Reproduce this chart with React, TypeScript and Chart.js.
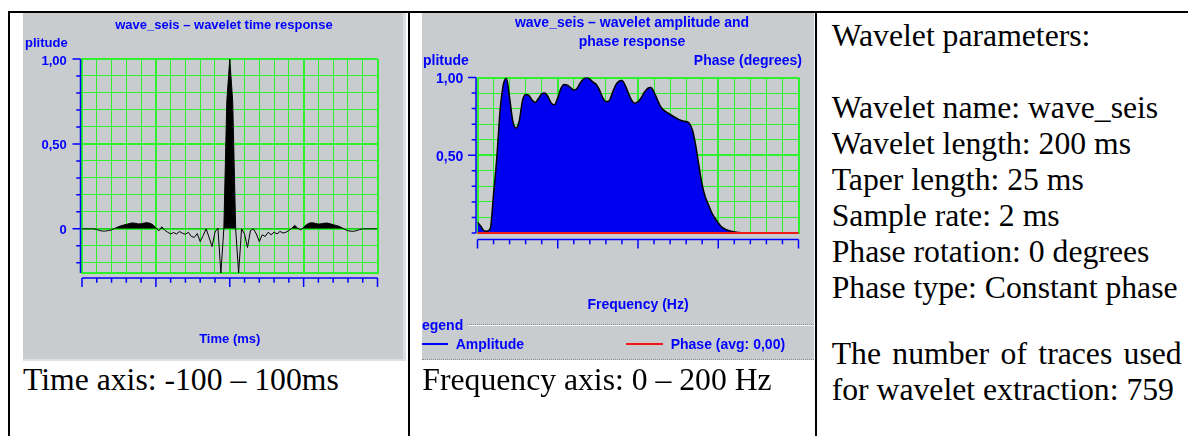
import React, { useEffect, useRef } from 'react';
import { Chart, registerables } from 'chart.js';

Chart.register(...registerables);

// ---- wavelet time response (2 ms samples) ----
const timeMs = [
  -100, -98, -96, -94, -92, -90, -88, -86, -84, -82, -80, -78, -76, -74, -72, -70, -68,
  -66, -64, -62, -60, -58, -56, -54, -52, -50, -48, -46, -44, -42, -40, -38, -36, -34,
  -32, -30, -28, -26, -24, -22, -20, -18, -16, -14, -12, -10, -8, -6, -4, -2, 0, 2, 4,
  6, 8, 10, 12, 14, 16, 18, 20, 22, 24, 26, 28, 30, 32, 34, 36, 38, 40, 42, 44, 46, 48,
  50, 52, 54, 56, 58, 60, 62, 64, 66, 68, 70, 72, 74, 76, 78, 80, 82, 84, 86, 88, 90,
  92, 94, 96, 98, 100,
];
const waveletAmp = [
  0, 0, 0, 0, 0,
  -0.004, -0.01, -0.013, -0.013, -0.01, -0.006,
  0.002, 0.01, 0.017, 0.022, 0.026, 0.031, 0.035, 0.033, 0.029, 0.03, 0.034, 0.036, 0.033, 0.024, 0.006,
  -0.012, 0.012, -0.008, -0.02, -0.03, -0.022, -0.03, -0.016, -0.026, -0.032, -0.02, -0.045, -0.05, -0.028, -0.075,
  -0.04, 0, -0.05, -0.105, -0.02, 0.005, -0.26, 0, 0.75,
  1,
  0.75, 0, -0.26, 0, -0.03, -0.11, -0.01, 0, -0.03,
  -0.075, -0.035, -0.045, -0.02, -0.035, -0.02, -0.03, -0.015, -0.025, -0.02, -0.01, 0.004, 0.02, 0.004, -0.006,
  0.008, 0.025, 0.034, 0.036, 0.032, 0.028, 0.03, 0.033, 0.034, 0.03, 0.024, 0.02, 0.015, 0.006, -0.004,
  -0.011, -0.014, -0.014, -0.01, -0.004, 0, 0, 0, 0, 0, 0,
];
const timeTicks = [-100, -90, -80, -70, -60, -50, -40, -30, -20, -10, 0, 10, 20, 30, 40, 50, 60, 70, 80, 90, 100];
const timeAmpTicks = [-0.2, -0.1, 0, 0.1, 0.2, 0.3, 0.4, 0.5, 0.6, 0.7, 0.8, 0.9, 1];
const timeAmpLabelValues = [1, 0.5, 0];
const timeAmpLabels = ['1,00', '0,50', '0'];

// ---- wavelet amplitude / phase spectrum (2 Hz samples) ----
const freqHz = [
  0, 2, 4, 6, 8, 10, 12, 14, 16, 18, 20, 22, 24, 26, 28, 30, 32, 34, 36, 38, 40, 42, 44,
  46, 48, 50, 52, 54, 56, 58, 60, 62, 64, 66, 68, 70, 72, 74, 76, 78, 80, 82, 84, 86, 88,
  90, 92, 94, 96, 98, 100, 102, 104, 106, 108, 110, 112, 114, 116, 118, 120, 122, 124,
  126, 128, 130, 132, 134, 136, 138, 140, 142, 144, 146, 148, 150, 152, 154, 156, 158,
  160, 162, 164, 166, 168, 170, 172, 174, 176, 178, 180, 182, 184, 186, 188, 190, 192,
  194, 196, 198, 200,
];
const spectrumAmp = [
  0.07, 0.045, 0.015, 0.012, 0.03,
  0.25, 0.48, 0.78, 0.95, 0.995, 0.87, 0.72, 0.675, 0.72, 0.85,
  0.89, 0.885, 0.855, 0.84, 0.865, 0.895, 0.9, 0.875, 0.835, 0.825,
  0.87, 0.93, 0.955, 0.95, 0.935, 0.92, 0.93, 0.965, 0.99, 1.0,
  0.99, 0.97, 0.955, 0.92, 0.87, 0.845, 0.85, 0.9, 0.95, 0.975,
  0.98, 0.95, 0.9, 0.855, 0.835, 0.845, 0.87, 0.905, 0.93, 0.935,
  0.905, 0.86, 0.815, 0.79, 0.775, 0.762, 0.75, 0.738, 0.727, 0.72,
  0.717, 0.705, 0.66, 0.56, 0.43, 0.31, 0.23, 0.18, 0.13, 0.095,
  0.065, 0.04, 0.027, 0.018, 0.012, 0.008, 0.004, 0.002, 0, 0,
  0, 0, 0, 0, 0, 0, 0, 0, 0, 0,
  0, 0, 0, 0, 0, 0,
];
const phaseFreqHz = [0, 50, 100, 150, 200];
const phaseDeg = [0, 0, 0, 0, 0];
const freqTicks = [0, 10, 20, 30, 40, 50, 60, 70, 80, 90, 100, 110, 120, 130, 140, 150, 160, 170, 180, 190, 200];
const freqAmpTicks = [0, 0.1, 0.2, 0.3, 0.4, 0.5, 0.6, 0.7, 0.8, 0.9, 1];
const freqAmpLabelValues = [1, 0.5];
const freqAmpLabels = ['1,00', '0,50'];

const SANS = '"Liberation Sans", Arial, sans-serif';
const SERIF = '"Liberation Serif", "Times New Roman", serif';
const BLUE = '#0000ff';
const GREEN = '#2ef02e';
const PANEL = '#c9ccce';
const FILL_BLUE = '#0000f0';
const RED = '#f01818';

const near = (a: number, b: number) => Math.abs(a - b) < 1e-6;
const isHalfStep = (v: number) => near(v * 2, Math.round(v * 2));

// Blue rulers drawn just outside the plot frame, the corner captions,
// and a horizontal span for the title block.
const axisRulers = {
  id: 'axisRulers',
  afterLayout(chart: any, _args: any, opts: any) {
    if (opts.titleSpan && chart.titleBlock) {
      chart.titleBlock.left = opts.titleSpan[0];
      chart.titleBlock.right = opts.titleSpan[1];
    }
  },
  afterDraw(chart: any, _args: any, opts: any) {
    const { ctx, chartArea: a, scales } = chart;
    const xs = scales.x;
    const ys = scales.y;
    ctx.save();
    ctx.strokeStyle = opts.color;
    ctx.lineWidth = 1.5;
    ctx.beginPath();
    const rx = a.left - opts.yGap;
    ctx.moveTo(rx, a.top);
    ctx.lineTo(rx, a.bottom);
    ys.ticks.forEach((t: any) => {
      const py = ys.getPixelForValue(t.value);
      const len = opts.yMajor.some((m: number) => near(m, t.value)) ? 8 : 4.3;
      ctx.moveTo(rx - len, py);
      ctx.lineTo(rx, py);
    });
    const ry = a.bottom + opts.xGap;
    ctx.moveTo(a.left, ry);
    ctx.lineTo(a.right, ry);
    xs.ticks.forEach((t: any) => {
      const px = xs.getPixelForValue(t.value);
      const len = t.value % 50 === 0 ? 9 : 4.7;
      ctx.moveTo(px, ry);
      ctx.lineTo(px, ry + len);
    });
    ctx.stroke();

    ctx.fillStyle = opts.color;
    ctx.font = opts.font;
    ctx.textBaseline = 'middle';
    const ly = a.top - opts.labelRise;
    ctx.textAlign = 'left';
    ctx.fillText(opts.leftLabel, opts.leftX, ly);
    if (opts.rightLabel) {
      ctx.textAlign = 'right';
      ctx.fillText(opts.rightLabel, opts.rightX, ly);
    }
    ctx.restore();
  },
};

function gridFor(major: (v: number) => boolean) {
  return {
    color: GREEN,
    lineWidth: (c: any) => (c.tick && major(c.tick.value) ? 2 : 1),
    drawTicks: false,
  };
}

function timeConfig(): any {
  const font = { family: SANS, size: 13, weight: 'bold' as const, lineHeight: 1.2 };
  return {
    type: 'line',
    data: {
      datasets: [
        {
          label: 'Amplitude',
          data: timeMs.map((t, i) => ({ x: t, y: waveletAmp[i] })),
          borderColor: '#000',
          borderWidth: 1,
          pointRadius: 0,
          tension: 0,
          fill: { target: 'origin', above: '#000', below: 'rgba(0,0,0,0)' },
        },
      ],
    },
    plugins: [axisRulers],
    options: {
      responsive: false,
      animation: false,
      devicePixelRatio: 1,
      events: [],
      layout: { padding: { left: 0, right: 25.5, top: 0, bottom: 0 } },
      plugins: {
        legend: { display: false },
        tooltip: { enabled: false },
        title: {
          display: true,
          text: 'wave_seis – wavelet time response',
          color: BLUE,
          font,
          padding: { top: 4.2, bottom: 26.2 },
        },
        axisRulers: {
          color: BLUE,
          titleSpan: [47, 355],
          yMajor: timeAmpLabelValues,
          xGap: 5,
          yGap: 1.5,
          leftLabel: 'plitude',
          leftX: 2,
          labelRise: 16,
          font: 'bold 13px ' + SANS,
        },
      },
      scales: {
        x: {
          type: 'linear',
          min: -100,
          max: 100,
          afterBuildTicks: (s: any) => {
            s.ticks = timeTicks.map((v) => ({ value: v }));
          },
          afterFit: (s: any) => {
            s.height = 86;
          },
          ticks: { display: false },
          grid: gridFor((v) => v % 50 === 0),
          border: { color: GREEN, width: 2 },
          title: { display: true, text: 'Time (ms)', color: BLUE, font, padding: { top: 0, bottom: 12.2 } },
        },
        y: {
          type: 'linear',
          min: -0.26,
          max: 1,
          afterBuildTicks: (s: any) => {
            s.ticks = timeAmpTicks.map((v) => ({ value: v }));
          },
          afterFit: (s: any) => {
            s.width = 59;
          },
          ticks: {
            color: BLUE,
            font,
            padding: 15.3,
            labelOffset: 2,
            autoSkip: false,
            callback: (v: number) => {
              const i = timeAmpLabelValues.findIndex((m) => near(m, v));
              return i >= 0 ? timeAmpLabels[i] : '';
            },
          },
          grid: gridFor(isHalfStep),
          border: { color: GREEN, width: 2 },
        },
      },
    },
  };
}

function freqConfig(): any {
  const font = { family: SANS, size: 14, weight: 'bold' as const, lineHeight: 1.2 };
  return {
    type: 'line',
    data: {
      datasets: [
        {
          label: 'Phase (avg: 0,00)',
          data: phaseFreqHz.map((f, i) => ({ x: f, y: phaseDeg[i] })),
          yAxisID: 'y2',
          borderColor: RED,
          borderWidth: 2,
          pointRadius: 0,
          fill: false,
          clip: false,
        },
        {
          label: 'Amplitude',
          data: freqHz.map((f, i) => ({ x: f, y: spectrumAmp[i] })),
          yAxisID: 'y',
          borderColor: '#000',
          borderWidth: 1.5,
          backgroundColor: FILL_BLUE,
          pointRadius: 0,
          cubicInterpolationMode: 'monotone',
          fill: 'origin',
        },
      ],
    },
    plugins: [axisRulers],
    options: {
      responsive: false,
      animation: false,
      devicePixelRatio: 1,
      events: [],
      layout: { padding: { left: 0, right: 15.5, top: 0, bottom: 0 } },
      plugins: {
        legend: { display: false },
        tooltip: { enabled: false },
        title: {
          display: true,
          text: ['wave_seis – wavelet amplitude and', 'phase response'],
          color: BLUE,
          font: { ...font, lineHeight: 19 / 14 },
          padding: { top: 0.2, bottom: 26.3 },
        },
        axisRulers: {
          color: BLUE,
          titleSpan: [43.5, 376.5],
          yMajor: freqAmpLabelValues,
          xGap: 6.5,
          yGap: 1.5,
          leftLabel: 'plitude',
          leftX: 1,
          rightLabel: 'Phase (degrees)',
          rightX: 380,
          labelRise: 16.8,
          font: 'bold 14px ' + SANS,
        },
      },
      scales: {
        x: {
          type: 'linear',
          min: 0,
          max: 200,
          afterBuildTicks: (s: any) => {
            s.ticks = freqTicks.map((v) => ({ value: v }));
          },
          afterFit: (s: any) => {
            s.height = 126;
          },
          ticks: { display: false },
          grid: gridFor((v) => v % 50 === 0),
          border: { color: GREEN, width: 2 },
          title: { display: true, text: 'Frequency (Hz)', color: BLUE, font, padding: { top: 0, bottom: 45.5 } },
        },
        y: {
          type: 'linear',
          min: 0,
          max: 1,
          afterBuildTicks: (s: any) => {
            s.ticks = freqAmpTicks.map((v) => ({ value: v }));
          },
          afterFit: (s: any) => {
            s.width = 55.5;
          },
          ticks: {
            color: BLUE,
            font,
            padding: 14.2,
            labelOffset: 2,
            autoSkip: false,
            callback: (v: number) => {
              const i = freqAmpLabelValues.findIndex((m) => near(m, v));
              return i >= 0 ? freqAmpLabels[i] : '';
            },
          },
          grid: gridFor(isHalfStep),
          border: { color: GREEN, width: 2 },
        },
        y2: { type: 'linear', position: 'right', min: 0, max: 180, display: false },
      },
    },
  };
}

const abs = (left: number, top: number, extra: React.CSSProperties = {}): React.CSSProperties => ({
  position: 'absolute',
  left,
  top,
  ...extra,
});

const serifLine: React.CSSProperties = {
  fontFamily: SERIF,
  fontSize: 31.7,
  lineHeight: '36px',
  color: '#000',
  whiteSpace: 'nowrap',
};

const legendText: React.CSSProperties = {
  fontFamily: SANS,
  fontSize: 14,
  fontWeight: 'bold',
  lineHeight: '16px',
  color: BLUE,
  whiteSpace: 'nowrap',
};

const paramLines = [
  { top: 18.3, text: 'Wavelet parameters:' },
  { top: 90.3, text: 'Wavelet name: wave_seis' },
  { top: 126.3, text: 'Wavelet length: 200 ms' },
  { top: 162.3, text: 'Taper length: 25 ms' },
  { top: 198.3, text: 'Sample rate: 2 ms' },
  { top: 234.3, text: 'Phase rotation: 0 degrees' },
  { top: 270.3, text: 'Phase type: Constant phase' },
];

export default function App() {
  const timeRef = useRef<HTMLCanvasElement>(null);
  const freqRef = useRef<HTMLCanvasElement>(null);

  useEffect(() => {
    const c1 = new Chart(timeRef.current as HTMLCanvasElement, timeConfig());
    const c2 = new Chart(freqRef.current as HTMLCanvasElement, freqConfig());
    return () => {
      c1.destroy();
      c2.destroy();
    };
  }, []);

  return (
    <div
      style={{
        position: 'absolute',
        left: 0,
        top: 0,
        width: 1188,
        height: 436,
        background: '#fff',
        overflow: 'hidden',
      }}
    >
      {/* table rules */}
      <div style={abs(8, 11, { width: 1180, height: 2, background: '#000' })} />
      <div style={abs(8, 11, { width: 2, height: 425, background: '#000' })} />
      <div style={abs(407.5, 11, { width: 2, height: 425, background: '#000' })} />
      <div style={abs(815, 11, { width: 2, height: 425, background: '#000' })} />

      {/* time response panel */}
      <div
        style={abs(23, 13, {
          width: 380,
          height: 346,
          background: PANEL,
          borderRight: '3px solid #dedfe0',
          borderBottom: '2px solid #dedfe0',
        })}
      >
        <canvas ref={timeRef} width={380} height={346} style={{ display: 'block' }} />
      </div>
      <div style={{ ...abs(23, 362.3), ...serifLine }}>Time axis: -100 – 100ms</div>

      {/* amplitude / phase panel */}
      <div
        style={abs(422, 13, {
          width: 392,
          height: 346,
          background: PANEL,
          borderBottom: '1px dotted #8c8c8c',
        })}
      >
        <canvas ref={freqRef} width={392} height={346} style={{ display: 'block' }} />
        <div style={{ ...abs(0, 304), ...legendText }}>egend</div>
        <div
          style={abs(45, 311, {
            width: 347,
            height: 0,
            borderTop: '1px dotted #8c8c8c',
            borderBottom: '1px solid #f2f2f2',
          })}
        />
        <div style={abs(0, 330, { width: 26, height: 2, background: BLUE })} />
        <div style={{ ...abs(33.7, 323), ...legendText }}>Amplitude</div>
        <div style={abs(204, 330, { width: 37, height: 2, background: RED })} />
        <div style={{ ...abs(248.7, 323), ...legendText }}>Phase (avg: 0,00)</div>
      </div>
      <div style={{ ...abs(422.3, 362.3), ...serifLine }}>Frequency axis: 0 – 200 Hz</div>

      {/* wavelet parameters */}
      {paramLines.map((l) => (
        <div key={l.text} style={{ ...abs(831.7, l.top), ...serifLine }}>
          {l.text}
        </div>
      ))}
      <div
        style={{
          ...abs(831.7, 336.3),
          ...serifLine,
          whiteSpace: 'normal',
          width: 350,
          textAlign: 'justify',
        }}
      >
        The number of traces used for wavelet extraction: 759
      </div>
    </div>
  );
}
